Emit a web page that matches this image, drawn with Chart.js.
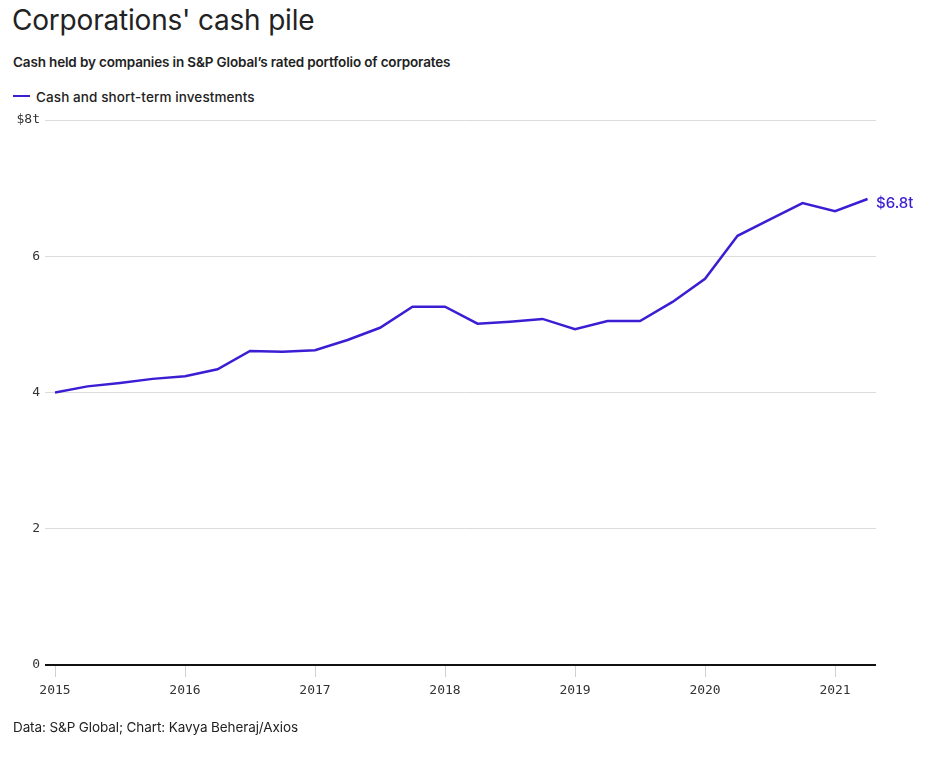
<!DOCTYPE html>
<html>
<head>
<meta charset="utf-8">
<script src="https://cdn.jsdelivr.net/npm/chart.js@4"></script>
<style>
  body { margin: 0; background: #fff; width: 936px; height: 762px; position: relative; overflow: hidden; font-family: Inter, "Noto Sans", sans-serif; color: #222; }
  .title { position: absolute; left: 12px; top: 3px; font-size: 28px; font-weight: 400; letter-spacing: -0.2px; }
  .subtitle { position: absolute; left: 13px; top: 54px; font-size: 13.5px; font-weight: 600; letter-spacing: -0.15px; }
  .legend { position: absolute; left: 13px; top: 89px; font-size: 13.5px; font-weight: 500; letter-spacing: 0.1px; }
  .legend i { display: inline-block; width: 17px; height: 2px; background: #3b1ed4; vertical-align: middle; margin-right: 6px; position: relative; top: -2px; }
  .footer { position: absolute; left: 13px; top: 719px; font-size: 13.5px; font-weight: 400; letter-spacing: -0.1px; }
  #wrap { position: absolute; left: 0; top: 100px; width: 936px; height: 620px; }
</style>
</head>
<body>
<div class="title">Corporations' cash pile</div>
<div class="subtitle">Cash held by companies in S&amp;P Global’s rated portfolio of corporates</div>
<div class="legend"><i></i>Cash and short-term investments</div>
<div id="wrap"><canvas id="chart"></canvas></div>
<div class="footer">Data: S&amp;P Global; Chart: Kavya Beheraj/Axios</div>

<script>
// Quarterly data, trillions of dollars
const quarters = [
  2015.00, 2015.25, 2015.50, 2015.75,
  2016.00, 2016.25, 2016.50, 2016.75,
  2017.00, 2017.25, 2017.50, 2017.75,
  2018.00, 2018.25, 2018.50, 2018.75,
  2019.00, 2019.25, 2019.50, 2019.75,
  2020.00, 2020.25, 2020.50, 2020.75,
  2021.00, 2021.25
];
const cashValues = [
  4.00, 4.09, 4.14, 4.20,
  4.24, 4.34, 4.61, 4.60,
  4.62, 4.77, 4.95, 5.26,
  5.26, 5.01, 5.04, 5.08,
  4.93, 5.05, 5.05, 5.33,
  5.67, 6.30, 6.54, 6.78,
  6.66, 6.84
];
const yearTicks = [2015, 2016, 2017, 2018, 2019, 2020, 2021];
const yTicks = [0, 2, 4, 6, 8];

const lineColor = '#3b1ed4';
const monoFont = { family: '"DejaVu Sans Mono", "Liberation Mono", monospace', size: 13 };

// Label at the end of the line
const endLabel = {
  id: 'endLabel',
  afterDatasetsDraw(chart) {
    const meta = chart.getDatasetMeta(0);
    const last = meta.data[meta.data.length - 1];
    const v = cashValues[cashValues.length - 1];
    const ctx = chart.ctx;
    ctx.save();
    ctx.fillStyle = lineColor;
    ctx.font = '500 15px Inter, "Noto Sans", sans-serif';
    ctx.textAlign = 'left';
    ctx.textBaseline = 'middle';
    ctx.fillText('$' + v.toFixed(1) + 't', chart.chartArea.right, last.y + 4);
    ctx.restore();
  }
};

new Chart(document.getElementById('chart'), {
  type: 'line',
  data: {
    datasets: [{
      label: 'Cash and short-term investments',
      data: quarters.map((q, i) => ({ x: q, y: cashValues[i] })),
      borderColor: lineColor,
      borderWidth: 2.5,
      pointRadius: 0,
      tension: 0,
      fill: false
    }]
  },
  options: {
    responsive: true,
    maintainAspectRatio: false,
    animation: false,
    layout: { padding: { left: 0, right: 60, top: 20, bottom: 15 } },
    plugins: { legend: { display: false }, tooltip: { enabled: false } },
    scales: {
      x: {
        type: 'linear',
        min: 2015,
        max: 2021.315,
        afterBuildTicks: (scale) => { scale.ticks = yearTicks.map(v => ({ value: v })); },
        afterFit: (scale) => { scale.height = 40; },
        border: { display: false },
        grid: { drawOnChartArea: false, drawTicks: true, tickLength: 12, tickColor: '#d0d0d0', lineWidth: 1 },
        ticks: { color: '#333', font: monoFont, padding: 6, maxRotation: 0, callback: v => String(v) }
      },
      y: {
        min: 0,
        max: 8,
        afterBuildTicks: (scale) => { scale.ticks = yTicks.map(v => ({ value: v })); },
        afterFit: (scale) => { scale.width = 55; },
        border: { display: false },
        grid: {
          color: ctx => ctx.tick && ctx.tick.value === 0 ? '#111' : '#dcdcdc',
          lineWidth: ctx => ctx.tick && ctx.tick.value === 0 ? 2 : 1,
          drawTicks: true,
          tickLength: 10
        },
        ticks: {
          color: '#333',
          font: monoFont,
          padding: 5,
          callback: v => v === 8 ? '$8t' : String(v)
        }
      }
    }
  },
  plugins: [endLabel]
});
</script>
</body>
</html>
